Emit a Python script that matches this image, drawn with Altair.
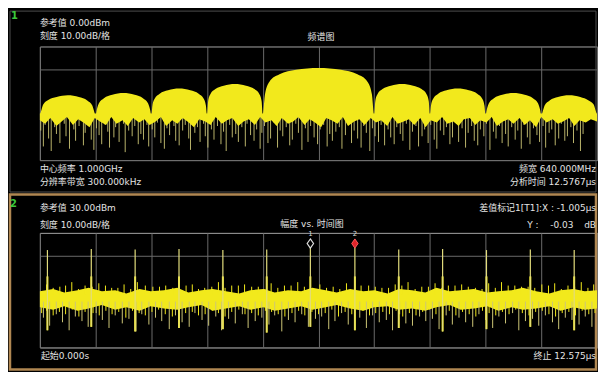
import altair as alt
import pandas as pd

# ---------------- data: panel 1 (spectrum) ----------------
freq_grid = [680, 744, 808, 872, 936, 1000, 1064, 1128, 1192, 1256, 1320]
db_ticks_1 = [-100, -90, -80, -70, -60, -50, -40, -30, -20, -10, 0]

env_f = [680, 681.3, 683.8, 689.6, 699.2, 712, 724.8, 734.4, 740.2, 742.7,
         744, 745.3, 747.8, 753.6, 763.2, 776, 788.8, 798.4, 804.2, 806.7,
         808, 809.3, 811.8, 817.6, 827.2, 840, 852.8, 862.4, 868.2, 870.7,
         872, 873.3, 875.8, 881.6, 891.2, 904, 916.8, 926.4, 932.2, 934.7,
         936, 938.6, 943.7, 955.2, 974.4, 1000, 1025.6, 1044.8, 1056.3, 1061.4,
         1064, 1065.3, 1067.8, 1073.6, 1083.2, 1096, 1108.8, 1118.4, 1124.2, 1126.7,
         1128, 1129.3, 1131.8, 1137.6, 1147.2, 1160, 1172.8, 1182.4, 1188.2, 1190.7,
         1192, 1193.3, 1195.8, 1201.6, 1211.2, 1224, 1236.8, 1246.4, 1252.2, 1254.7,
         1256, 1257.3, 1259.8, 1265.6, 1275.2, 1288, 1300.8, 1310.4, 1316.2, 1318.7, 1320]
env_db = [-60, -57, -51, -47, -44.5, -43, -44.5, -47.5, -52, -58,
          -61, -56, -50, -45.5, -42.5, -41, -42.5, -45.5, -50, -56,
          -61, -52, -46, -41.5, -38.5, -37, -38.5, -41.5, -46, -52,
          -61, -48, -42, -37.5, -34.5, -33, -34.5, -37.5, -42, -48,
          -61, -42, -31, -24.5, -20.5, -19, -20.5, -24.5, -31, -42,
          -61, -48, -42, -37.5, -34.5, -33, -34.5, -37.5, -42, -48,
          -61, -52, -46, -41.5, -38.5, -37, -38.5, -41.5, -46, -52,
          -61, -56, -50, -45.5, -42.5, -41, -42.5, -45.5, -50, -56,
          -61, -58, -52, -47.5, -44.5, -43, -44.5, -47.5, -51, -57, -60]

skirt_f = [680, 686, 692, 699, 705, 711, 718, 724, 730, 737, 743, 749, 756, 762, 768, 775,
           781, 787, 794, 800, 806, 813, 819, 825, 832, 838, 844, 851, 857, 863, 870, 876,
           882, 889, 895, 901, 908, 914, 920, 927, 933, 939, 946, 952, 958, 965, 971, 977,
           984, 990, 996, 1003, 1009, 1015, 1022, 1028, 1034, 1041, 1047, 1053, 1060, 1066,
           1072, 1079, 1085, 1091, 1098, 1104, 1110, 1117, 1123, 1129, 1136, 1142, 1148,
           1155, 1161, 1167, 1174, 1180, 1186, 1193, 1199, 1205, 1212, 1218, 1224, 1231,
           1237, 1243, 1250, 1256, 1262, 1269, 1275, 1281, 1288, 1294, 1300, 1307, 1313, 1320]
skirt_db = [-65, -68, -63, -70, -66, -62, -69, -64, -67, -71, -63, -66, -69, -62, -68, -65,
            -70, -63, -67, -64, -69, -66, -62, -70, -65, -68, -63, -67, -71, -64, -66, -69,
            -62, -68, -65, -63, -70, -66, -64, -69, -62, -67, -65, -70, -63, -68, -66, -62,
            -69, -64, -67, -71, -63, -65, -68, -62, -70, -66, -64, -69, -63, -67, -65, -70,
            -62, -68, -66, -64, -69, -63, -71, -65, -67, -62, -68, -66, -70, -64, -63, -69,
            -65, -67, -62, -70, -66, -64, -68, -63, -69, -65, -71, -62, -67, -64, -68, -66,
            -63, -70, -65, -67, -64, -66]

dip_f = [681, 684, 686, 690, 693, 697, 699, 703, 708, 710, 714, 719, 721, 725, 730, 732,
         736, 739, 742, 745, 748, 751, 755, 758, 760, 765, 767, 771, 776, 778, 782, 786,
         789, 793, 796, 799, 803, 805, 809, 812, 815, 819, 823, 826, 829, 834, 836, 840,
         844, 847, 851, 853, 858, 861, 864, 868, 870, 873, 877, 880, 884, 888, 891, 894,
         898, 901, 905, 908, 912, 916, 918, 922, 926, 929, 933, 935, 938, 942, 945, 949,
         953, 956, 959, 963, 967, 970, 974, 977, 981, 985, 988, 991, 995, 999, 1002, 1006,
         1010, 1013, 1016, 1020, 1024, 1027, 1031, 1034, 1038, 1041, 1045, 1049, 1052,
         1055, 1059, 1062, 1065, 1069, 1072, 1076, 1080, 1083, 1087, 1090, 1094, 1097,
         1101, 1105, 1108, 1112, 1115, 1119, 1122, 1126, 1129, 1133, 1136, 1140, 1144,
         1147, 1151, 1154, 1158, 1161, 1165, 1169, 1172, 1176, 1179, 1183, 1186, 1190,
         1193, 1197, 1201, 1204, 1208, 1211, 1215, 1218, 1222, 1226, 1229, 1233, 1236,
         1240, 1243, 1247, 1251, 1254, 1258, 1261, 1265, 1268, 1272, 1276, 1279, 1283,
         1286, 1290, 1293, 1297, 1301, 1304, 1308, 1311, 1315, 1318]
dip_db = [-74, -88, -69, -81, -92, -71, -77, -85, -68, -79, -90, -73, -83, -70, -87, -76, -67, -82, -91, -72,
          -78, -86, -69, -75, -89, -80, -71, -84, -68, -93, -74, -79, -70, -86, -77, -82, -69, -88, -73, -80,
          -67, -85, -90, -72, -78, -70, -83, -87, -74, -69, -81, -91, -76, -71, -84, -68, -79, -89, -73, -82,
          -70, -86, -75, -92, -69, -80, -77, -84, -71, -88, -68, -78, -83, -73, -90, -76, -70, -85, -81, -67,
          -89, -74, -79, -71, -87, -82, -68, -76, -91, -72, -84, -70, -80, -86, -73, -69, -88, -77, -83, -75,
          -71, -90, -78, -68, -85, -74, -81, -89, -70, -76, -92, -72, -79, -84, -69, -87, -73, -80, -86, -71,
          -77, -83, -68, -91, -75, -70, -88, -79, -73, -85, -69, -82, -90, -74, -78, -71, -86, -80, -67, -84,
          -72, -89, -76, -70, -83, -87, -73, -79, -68, -91, -75, -81, -70, -85, -77, -88, -71, -82, -74, -90,
          -69, -80, -86, -72, -78, -84, -70, -89, -76, -73, -87, -81, -68, -83, -79, -71, -85, -74, -92, -77]

# ---------------- data: panel 2 (amplitude vs time) ----------------
time_grid = [0, 1.2575, 2.515, 3.7725, 5.03, 6.2875, 7.545, 8.8025, 10.06, 11.3175, 12.575]
db_ticks_2 = [-70, -60, -50, -40, -30, -20, -10, 0, 10, 20, 30]

band_t = [0.00, 0.30, 0.55, 0.85, 1.10, 1.40, 1.70, 1.95, 2.25, 2.50, 2.80, 3.10, 3.35, 3.65,
          3.90, 4.20, 4.50, 4.75, 5.05, 5.30, 5.60, 5.90, 6.15, 6.45, 6.70, 7.00, 7.30, 7.55,
          7.85, 8.10, 8.40, 8.70, 8.95, 9.25, 9.50, 9.80, 10.10, 10.35, 10.65, 10.90, 11.20,
          11.50, 11.75, 12.05, 12.30, 12.575]
band_hi = [-21, -19, -22, -20, -18, -21, -20, -23, -19, -21, -20, -18, -22, -20, -19, -21,
           -23, -20, -19, -22, -20, -21, -18, -20, -22, -19, -21, -20, -23, -19, -20, -22,
           -18, -21, -20, -19, -22, -21, -20, -18, -21, -23, -20, -19, -21, -20]
band_lo = [-35, -37, -34, -38, -36, -33, -37, -35, -38, -34, -36, -37, -35, -33, -38, -36,
           -34, -37, -35, -38, -36, -34, -37, -35, -33, -36, -38, -35, -34, -37, -36, -38,
           -35, -33, -37, -36, -34, -38, -35, -37, -36, -34, -38, -35, -37, -36]

dn_t = [0.08, 0.22, 0.37, 0.51, 0.66, 0.80, 0.95, 1.09, 1.27, 1.41, 1.56, 1.70, 1.86, 2.01,
        2.17, 2.30, 2.46, 2.61, 2.75, 2.92, 3.06, 3.21, 3.37, 3.50, 3.66, 3.81, 3.97, 4.10,
        4.26, 4.41, 4.57, 4.70, 4.86, 5.01, 5.17, 5.30, 5.46, 5.61, 5.76, 5.91, 6.06, 6.22,
        6.36, 6.52, 6.66, 6.81, 6.96, 7.22, 7.37, 7.51, 7.66, 7.82, 7.96, 8.12, 8.26, 8.41,
        8.57, 8.71, 8.86, 9.01, 9.17, 9.31, 9.46, 9.61, 9.77, 9.91, 10.06, 10.22, 10.36,
        10.51, 10.67, 10.81, 10.96, 11.12, 11.26, 11.41, 11.57, 11.71, 11.86, 12.01, 12.17,
        12.31, 12.46]
dn_db = [-44, -51, -41, -48, -55, -43, -47, -52, -40, -46, -53, -42, -49, -45, -56, -41,
         -50, -44, -47, -54, -42, -48, -52, -40, -46, -51, -43, -55, -45, -49, -41, -53,
         -47, -44, -50, -42, -56, -46, -48, -41, -52, -45, -43, -54, -47, -40, -50, -44,
         -53, -42, -48, -46, -55, -41, -49, -51, -43, -47, -45, -54, -42, -50, -44, -48,
         -52, -41, -46, -53, -43, -49, -40, -55, -47, -45, -51, -42, -48, -54, -44, -46,
         -50, -43, -52]

dn2_t = [0.04, 0.15, 0.30, 0.44, 0.58, 0.73, 0.88, 1.02, 1.20, 1.34, 1.49, 1.63, 1.78, 1.94,
         2.09, 2.24, 2.38, 2.53, 2.68, 2.83, 2.99, 3.13, 3.29, 3.44, 3.58, 3.73, 3.89, 4.03,
         4.18, 4.33, 4.49, 4.63, 4.78, 4.93, 5.09, 5.23, 5.38, 5.53, 5.69, 5.84, 5.98, 6.14,
         6.29, 6.44, 6.59, 6.74, 6.89, 7.04, 7.29, 7.44, 7.58, 7.74, 7.89, 8.04, 8.19, 8.34,
         8.49, 8.64, 8.79, 8.94, 9.09, 9.24, 9.39, 9.54, 9.69, 9.84, 9.99, 10.14, 10.29,
         10.44, 10.59, 10.74, 10.89, 11.04, 11.19, 11.34, 11.49, 11.64, 11.79, 11.94, 12.09,
         12.24, 12.39, 12.53]
dn2_db = [-40, -38, -42, -39, -41, -37, -43, -39, -40, -42, -38, -41, -39, -44, -38, -40,
          -42, -39, -37, -41, -43, -38, -40, -39, -42, -41, -38, -40, -43, -39, -37, -41,
          -40, -42, -38, -39, -41, -43, -40, -38, -42, -39, -41, -40, -37, -43, -39, -41,
          -38, -42, -40, -39, -41, -38, -43, -40, -42, -39, -37, -41, -40, -38, -42, -39,
          -41, -43, -38, -40, -42, -39, -41, -37, -40, -42, -39, -38, -41, -43, -40, -39,
          -42, -38, -41, -40]

up_t = [0.15, 0.45, 0.72, 1.02, 1.33, 1.62, 1.90, 2.20, 2.55, 2.84, 3.15, 3.44, 3.72, 4.03,
        4.33, 4.62, 4.93, 5.22, 5.52, 5.82, 6.32, 6.62, 6.92, 7.42, 7.72, 8.02, 8.31, 8.62,
        8.92, 9.22, 9.52, 9.83, 10.13, 10.42, 10.72, 11.02, 11.33, 11.62, 11.92, 12.22, 12.50,
        0.30, 0.58, 0.87, 1.18, 1.48, 1.76, 2.05, 2.38, 2.70, 3.00, 3.30, 3.58, 3.88, 4.18,
        4.48, 4.78, 5.08, 5.37, 5.67, 5.97, 6.47, 6.77, 7.25, 7.57, 7.87, 8.17, 8.47, 8.77,
        9.07, 9.37, 9.67, 9.98, 10.28, 10.57, 10.87, 11.17, 11.48, 11.77, 12.07, 12.37]
up_db = [-15, -17, -13, -16, -14, -18, -15, -13, -17, -16, -14, -15, -18, -13, -16, -15,
         -17, -14, -16, -13, -15, -17, -14, -16, -18, -15, -13, -17, -14, -16, -15, -18,
         -14, -13, -16, -17, -15, -14, -16, -13, -15,
         -18, -16, -19, -17, -16, -18, -19, -16, -17, -18, -16, -19, -17, -18, -16, -17,
         -19, -18, -16, -17, -18, -19, -16, -17, -18, -16, -19, -17, -18, -16, -17, -19,
         -18, -16, -17, -18, -16, -19, -17, -18]

pulse_t = [0.17, 1.16, 2.15, 3.14, 4.13, 5.12, 6.105, 7.11, 8.10, 9.09, 10.08, 11.07, 12.06]
pulse_top = [15, 16, 15.5, 16, 15, 15.5, 17, 17, 15.5, 16, 15, 15.5, 15]
pulse_lo = [-55, -52, -56, -53, -54, -57, -52, -55, -53, -56, -54, -52, -55]

marker_t = [6.105, 7.11]
marker_db = [20.7, 20.7]
marker_lbl = ["1", "2"]

# ---------------- style ----------------
YELLOW = "#f2e91c"
PALE = "#cdc676"
TXT = "#e4e4e4"
FONT = "DejaVu Sans, Noto Sans CJK SC"
W, H1, H2 = 559, 114, 115


def txt(s, x, y, align="left", color=TXT, size=9, weight="normal"):
    return alt.Chart().mark_text(text=s, align=align, baseline="middle", font=FONT,
                                 fontSize=size, color=color, fontWeight=weight).encode(
        x=alt.value(x), y=alt.value(y))


def pairs(a, b):
    n = min(len(a), len(b))
    return a[:n], b[:n]


# ---------------- panel 1 ----------------
ef, ed = pairs(env_f, env_db)
sf, sd = pairs(skirt_f, skirt_db)
df_, dd = pairs(dip_f, dip_db)
env = pd.DataFrame({"f": ef, "db": ed})
skirt = pd.DataFrame({"f": sf, "db": sd})
dips = pd.DataFrame({"f": df_, "db": dd})

xs1 = alt.Scale(domain=[680, 1320], nice=False, zero=False)
ys1 = alt.Scale(domain=[-100, 0], nice=False, zero=False)
x1 = alt.X("f:Q", scale=xs1,
           axis=alt.Axis(values=freq_grid, labels=False, ticks=False, domain=False,
                         grid=True, title=None))
y1 = alt.Y("db:Q", scale=ys1,
           axis=alt.Axis(values=db_ticks_1, ticks=False, domain=False, grid=True, title=None,
                         labelExpr="abs(datum.value) % 20 == 10 ? format(datum.value, '.2f') : ''"))

bounds1 = alt.Chart().mark_rect(opacity=0).encode(
    x=alt.value(-31), x2=alt.value(W), y=alt.value(-37), y2=alt.value(325))
frame1 = alt.Chart().mark_rect(filled=False, stroke="#4e4e4e", strokeWidth=1).encode(
    x=alt.value(-30), x2=alt.value(W - 1), y=alt.value(-35.5), y2=alt.value(146))
dome = alt.Chart(env).mark_area(color=YELLOW, interpolate="monotone").encode(
    x=x1, y=y1, y2=alt.datum(-60))
skirt_area = alt.Chart(skirt).mark_area(color=YELLOW).encode(
    x=alt.X("f:Q", scale=xs1), y=alt.Y("db:Q", scale=ys1), y2=alt.datum(-59))
dip1 = alt.Chart(dips).mark_rule(color=PALE, strokeWidth=1, opacity=0.9).encode(
    x=alt.X("f:Q", scale=xs1), y=alt.Y("db:Q", scale=ys1), y2=alt.datum(-62))

p1 = alt.layer(
    bounds1, frame1, dome, dip1, skirt_area,
    txt("1", -29, -30.5, color="#3cc83c", size=10, weight="bold"),
    txt("参考值 0.00dBm", 0, -23.5),
    txt("刻度 10.00dB/格", 0, -11),
    txt("频谱图", 282, -10, align="center"),
    txt("中心频率 1.000GHz", 0, 122.5),
    txt("分辨率带宽 300.000kHz", 0, 136),
    txt("频宽 640.000MHz", W - 1, 122.5, align="right"),
    txt("分析时间 12.5767μs", W - 1, 136, align="right"),
).properties(width=W, height=H1)

# ---------------- panel 2 ----------------
band = pd.DataFrame({"t": band_t, "hi": band_hi, "lo": band_lo})
a, b = pairs(dn_t, dn_db)
dn = pd.DataFrame({"t": a, "db": b})
a, b = pairs(dn2_t, dn2_db)
dn2 = pd.DataFrame({"t": a, "db": b})
a, b = pairs(up_t, up_db)
up = pd.DataFrame({"t": a, "db": b})
pulses = pd.DataFrame({"t": pulse_t, "top": pulse_top, "lo": pulse_lo})
marks = pd.DataFrame({"t": marker_t, "db": marker_db, "lbl": marker_lbl})

xs2 = alt.Scale(domain=[0, 12.575], nice=False, zero=False)
ys2 = alt.Scale(domain=[-70, 30], nice=False, zero=False)
x2 = alt.X("t:Q", scale=xs2,
           axis=alt.Axis(values=time_grid, labels=False, ticks=False, domain=False,
                         grid=True, title=None))
y2ax = alt.Axis(values=db_ticks_2, ticks=False, domain=False, grid=True, title=None,
                labelExpr="datum.value % 20 == 0 ? format(datum.value, '.2f') : ''")

frame2 = alt.Chart().mark_rect(filled=False, stroke="#b08752", strokeWidth=2.5).encode(
    x=alt.value(-30), x2=alt.value(W - 1), y=alt.value(-38.5), y2=alt.value(137))
band_area = alt.Chart(band).mark_area(color=YELLOW).encode(
    x=x2, y=alt.Y("hi:Q", scale=ys2, axis=y2ax), y2="lo:Q")
dn_rules = alt.Chart(dn).mark_rule(color=PALE, strokeWidth=1).encode(
    x=x2, y=alt.Y("db:Q", scale=ys2), y2=alt.datum(-30))
dn2_rules = alt.Chart(dn2).mark_rule(color=YELLOW, strokeWidth=1).encode(
    x=x2, y=alt.Y("db:Q", scale=ys2), y2=alt.datum(-30))
up_rules = alt.Chart(up).mark_rule(color=YELLOW, strokeWidth=1).encode(
    x=x2, y=alt.Y("db:Q", scale=ys2), y2=alt.datum(-24))
pulse_thin = alt.Chart(pulses).mark_rule(color="#e2dc7c", strokeWidth=1.2).encode(
    x=x2, y=alt.Y("top:Q", scale=ys2), y2="lo:Q")
pulse_base = alt.Chart(pulses).mark_rule(color=YELLOW, strokeWidth=2).encode(
    x=x2, y=alt.Y("lo:Q", scale=ys2), y2=alt.datum(-8))
diamond = "M0,-1.15L0.8,0L0,1.15L-0.8,0Z"
m1 = alt.Chart(marks.iloc[[0]]).mark_point(shape=diamond, size=64, filled=True, fill="black",
                                           stroke="#dcdcdc", strokeWidth=1.2, opacity=1).encode(
    x=x2, y=alt.Y("db:Q", scale=ys2))
m2 = alt.Chart(marks.iloc[[1]]).mark_point(shape=diamond, size=64, filled=True, fill="#e0242a",
                                           stroke="#ff5a5a", strokeWidth=1, opacity=1).encode(
    x=x2, y=alt.Y("db:Q", scale=ys2))
m_lbl = alt.Chart(marks).mark_text(font="DejaVu Sans", fontSize=7, color="#d8d8d8",
                                   baseline="middle", dy=-10).encode(
    x=x2, y=alt.Y("db:Q", scale=ys2), text="lbl:N")

p2 = alt.layer(
    frame2, band_area, dn_rules, dn2_rules, up_rules, pulse_base, pulse_thin, m1, m2, m_lbl,
    txt("2", -30, -28.5, color="#3cc83c", size=10, weight="bold"),
    txt("参考值 30.00dBm", 0, -24.5),
    txt("刻度 10.00dB/格", 0, -8),
    txt("幅度 vs. 时间图", 273, -8.5, align="center"),
    txt("差值标记1[T1]:X : -1.005μs", W - 1, -24.7, align="right"),
    txt("Y :", 489, -8),
    txt("-0.03", 512, -8),
    txt("dB", W - 1, -8, align="right"),
    txt("起始0.000s", 1, 123.7),
    txt("终止 12.575μs", W - 1, 123.7, align="right"),
).properties(width=W, height=H2)

chart = alt.vconcat(p1, p2, spacing=73, bounds="flush").properties(
    padding=0
).configure(
    background="black"
).configure_view(
    stroke="#a4a4a4", strokeWidth=1
).configure_axis(
    gridColor="#6a6a6a", gridWidth=1, labelColor="#cccccc", labelFont="Liberation Sans",
    labelFontSize=6.5, labelPadding=7, tickSize=0
)

chart.save("out.html", embed_options={"renderer": "svg", "actions": False})
